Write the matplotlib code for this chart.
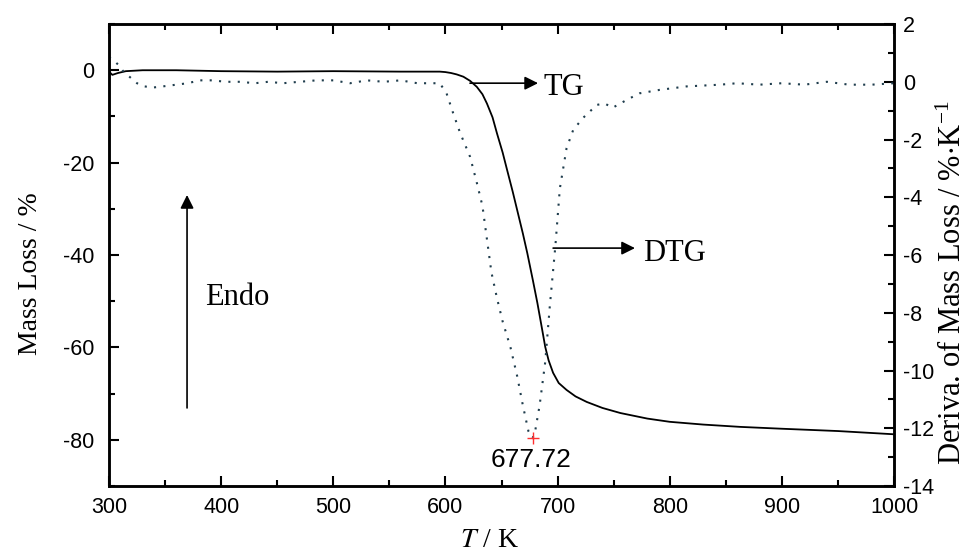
import numpy as np
import matplotlib
matplotlib.use('Agg')
import matplotlib.pyplot as plt
from matplotlib.ticker import MultipleLocator

plt.rcParams['font.family'] = 'Liberation Sans'
plt.rcParams['mathtext.fontset'] = 'stix'
plt.rcParams['axes.unicode_minus'] = False

# TG curve (mass loss, %)
tg_T = [300, 303, 308, 315, 330, 360, 400, 450, 500, 560, 590, 595, 600, 605, 610, 616,
        622, 628, 633, 637, 642, 646, 651, 655, 660, 664, 669, 673, 678, 682, 686,
        689, 692, 696, 701, 708, 716, 726, 740, 756, 780, 800, 830, 863, 900, 950, 1000]
tg_m = [-0.3, -1.0, -0.6, -0.2, 0.0, 0.0, -0.2, -0.3, -0.2, -0.3, -0.3, -0.3, -0.4,
        -0.6, -0.9, -1.4, -2.3, -3.6, -5.2, -7.2, -10.2, -13.7, -17.8, -21.6, -26.3,
        -30.3, -35.3, -39.6, -45.5, -50.4, -55.8, -59.9, -62.8, -65.5, -67.7, -69.2,
        -70.6, -71.8, -73.1, -74.2, -75.4, -76.1, -76.7, -77.2, -77.6, -78.1, -78.8]

# DTG curve (%/K)
dtg_T = [300, 304, 308, 313, 319, 325, 330, 339, 350, 360, 370, 381, 392, 404, 417, 430,
         442, 455, 470, 485, 500, 515, 530, 545, 560, 575, 590, 595, 601, 607, 613, 622,
         628, 633, 637, 641, 646, 651, 658, 664, 669, 674, 677.72, 680, 684, 689, 693,
         698, 702, 708, 714, 723, 735, 742, 749, 756, 762, 773, 791, 815, 845, 860, 880,
         900, 920, 940, 960, 980, 1000]
dtg_v = [0.85, 0.75, 0.6, 0.35, 0.15, -0.05, -0.15, -0.2, -0.15, -0.1, -0.05, 0.05, 0.05,
         0.0, 0.0, -0.05, 0.0, -0.05, 0.0, 0.05, 0.05, -0.05, 0.05, 0.0, 0.05, -0.05, -0.05,
         -0.05, -0.4, -1.1, -1.76, -2.6, -3.5, -4.3, -5.45, -6.6, -7.5, -8.3, -9.2, -10.2,
         -11.2, -12.1, -12.34, -12.1, -11.2, -9.7, -7.8, -5.7, -3.7, -2.3, -1.66, -1.24,
         -0.8, -0.75, -0.9, -0.75, -0.62, -0.4, -0.28, -0.16, -0.1, -0.05, -0.1, -0.05,
         -0.1, 0.0, -0.1, -0.1, -0.05]

peak_T = 677.72
peak_v = -12.34

fig = plt.figure(figsize=(9.74, 5.54), dpi=100)
ax = fig.add_axes([0.1119, 0.1227, 0.8060, 0.8339])
ax2 = ax.twinx()

ax.plot(tg_T, tg_m, color='black', lw=1.3)
ax2.plot(dtg_T, dtg_v, color='#1f3d4d', lw=1.5, linestyle=(0, (1, 3.5)))
ax2.plot(peak_T, peak_v, marker='+', color='#ff3030', ms=9, mew=1.0)

ax.set_xlim(300, 1000)
ax.set_ylim(-90, 10)
ax2.set_ylim(-14, 2)

ax.xaxis.set_major_locator(MultipleLocator(100))
ax.xaxis.set_minor_locator(MultipleLocator(50))
ax.yaxis.set_major_locator(MultipleLocator(20))
ax.yaxis.set_minor_locator(MultipleLocator(10))
ax2.yaxis.set_major_locator(MultipleLocator(2))
ax2.yaxis.set_minor_locator(MultipleLocator(1))
ax.set_yticks([0, -20, -40, -60, -80])

for a in (ax, ax2):
    for s in a.spines.values():
        s.set_linewidth(1.8)
ax.tick_params(which='both', direction='in', top=True, width=1.5, labelsize=15.5)
ax.tick_params(which='major', length=7)
ax.tick_params(which='minor', length=4)
ax.tick_params(axis='y', pad=10.5)
ax.tick_params(axis='x', pad=8)
ax2.tick_params(which='both', direction='in', width=1.5, labelsize=15.5, pad=6.5)
ax2.tick_params(which='major', length=7)
ax2.tick_params(which='minor', length=4)

ax.set_xlabel(r'$T$ / K', fontsize=20, family='Liberation Serif')
ax.xaxis.set_label_coords(0.485, -0.09)
ax.set_ylabel('Mass Loss / %', fontsize=20, family='Liberation Serif')
ax.yaxis.set_label_coords(-0.084, 0.459)
ax2.set_ylabel(r'Deriva. of Mass Loss / %$\cdot$K$^{\mathregular{-1}}$', fontsize=22,
               family='Liberation Serif')
ax2.yaxis.set_label_coords(1.056, 0.44)

# annotations
arr = dict(arrowstyle='-|>', color='black', lw=1.2, mutation_scale=20, shrinkA=0, shrinkB=0)
ax.annotate('', xy=(682.6, -2.8), xytext=(621.9, -2.8), arrowprops=arr)
ax.text(687, -3.7, 'TG', fontsize=22, family='Liberation Serif', va='center')
ax.annotate('', xy=(769, -38.5), xytext=(696, -38.5), arrowprops=arr)
ax.text(776, -39.6, 'DTG', fontsize=22, family='Liberation Serif', va='center')
ax.annotate('', xy=(369.6, -27), xytext=(369.6, -73.1), arrowprops=arr)
ax.text(385.6, -49.1, 'Endo', fontsize=22, family='Liberation Serif', va='center')
ax.text(676.3, -84.3, '%.2f' % peak_T, fontsize=19, ha='center', va='center')

plt.savefig('out.png', dpi=100)
